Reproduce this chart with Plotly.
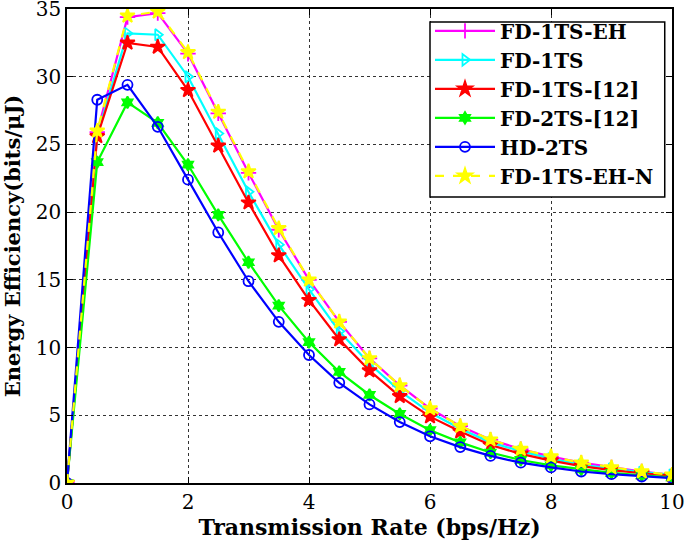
import plotly.graph_objects as go

rate = [0, 0.5, 1, 1.5, 2, 2.5, 3, 3.5, 4, 4.5, 5, 5.5, 6, 6.5, 7, 7.5, 8, 8.5, 9, 9.5, 10]

fd1ts_eh = [0, 25.9, 34.4, 34.7, 31.7, 27.3, 22.9, 18.7, 15.0, 11.9, 9.2, 7.2, 5.5, 4.2, 3.2, 2.5, 1.95, 1.5, 1.15, 0.85, 0.6]
fd1ts = [0, 25.7, 33.2, 33.1, 30.0, 25.8, 21.5, 17.6, 14.3, 11.2, 8.8, 6.8, 5.2, 4.0, 3.0, 2.35, 1.8, 1.35, 1.05, 0.8, 0.6]
fd1ts_12 = [0, 25.6, 32.5, 32.2, 29.0, 24.9, 20.7, 16.8, 13.5, 10.6, 8.3, 6.4, 4.9, 3.8, 2.8, 2.15, 1.65, 1.25, 0.95, 0.72, 0.55]
fd2ts_12 = [0, 23.7, 28.1, 26.6, 23.5, 19.8, 16.3, 13.1, 10.4, 8.2, 6.5, 5.1, 3.9, 3.0, 2.25, 1.7, 1.3, 1.0, 0.75, 0.57, 0.42]
hd2ts = [0, 28.3, 29.4, 26.3, 22.4, 18.5, 14.9, 11.9, 9.45, 7.4, 5.8, 4.5, 3.45, 2.65, 2.0, 1.5, 1.15, 0.85, 0.65, 0.48, 0.36]
fd1ts_eh_n = [0, 26.0, 34.5, 34.8, 31.8, 27.4, 23.0, 18.8, 15.0, 11.9, 9.2, 7.2, 5.5, 4.2, 3.2, 2.5, 1.95, 1.5, 1.15, 0.85, 0.6]

names = ["FD-1TS-EH", "FD-1TS", "FD-1TS-[12]", "FD-2TS-[12]", "HD-2TS", "FD-1TS-EH-N"]
series = [fd1ts_eh, fd1ts, fd1ts_12, fd2ts_12, hd2ts, fd1ts_eh_n]
colors = ["#ff00ff", "#00ffff", "#ff0000", "#00ff00", "#0000ff", "#ffff00"]
symbols = ["cross-thin-open", "triangle-right-open", "star", "hexagram", "circle-open", "star"]
sizes = [11, 10, 11, 9, 10, 11]
dashes = ["solid", "solid", "solid", "solid", "solid", "dash"]

FONT = "DejaVu Serif"

fig = go.Figure()
for nm, ys, c, s, sz, d in zip(names, series, colors, symbols, sizes, dashes):
    fig.add_trace(go.Scatter(
        x=rate, y=ys, name="<b>" + nm + "</b>", mode="lines+markers",
        line=dict(color=c, width=2.2, dash=d),
        marker=dict(symbol=s, size=sz, color=c, line=dict(color=c, width=1.8)),
    ))

axis_common = dict(
    showline=True, linecolor="black", linewidth=1.5, mirror="ticks",
    ticks="inside", ticklen=6, tickcolor="black",
    showgrid=True, gridcolor="#333333", griddash="dot", gridwidth=1,
    zeroline=False, automargin=False, ticklabeloverflow="allow",
    tickfont=dict(family=FONT, size=20, color="black"),
)

fig.update_xaxes(range=[0, 10], tickvals=[0, 2, 4, 6, 8, 10],
                 title=dict(text="<b>Transmission Rate (bps/Hz)</b>",
                            font=dict(family=FONT, size=22, color="black"), standoff=4),
                 **axis_common)
fig.update_yaxes(range=[0, 35], tickvals=[0, 5, 10, 15, 20, 25, 30, 35],
                 title=dict(text="<b>Energy Efficiency(bits/μJ)</b>",
                            font=dict(family=FONT, size=21, color="black"), standoff=14),
                 **axis_common)

# legend frame (white box with black border) behind the legend entries
fig.add_shape(type="rect", xref="paper", yref="paper",
              x0=0.6, x1=0.988, y0=0.6034, y1=0.9726,
              fillcolor="white", line=dict(color="black", width=1.5), layer="above")

fig.update_layout(
    width=685, height=544,
    margin=dict(l=67, r=13, t=9, b=61),
    plot_bgcolor="white", paper_bgcolor="white",
    showlegend=True,
    legend=dict(x=0.6, y=0.995, xanchor="left", yanchor="top",
                bgcolor="rgba(0,0,0,0)", borderwidth=0,
                font=dict(family=FONT, size=20, color="black"),
                tracegroupgap=0, itemwidth=60),
)

fig.write_html("out.html", config={"displayModeBar": False},
               post_script="document.body.style.margin='0';")
